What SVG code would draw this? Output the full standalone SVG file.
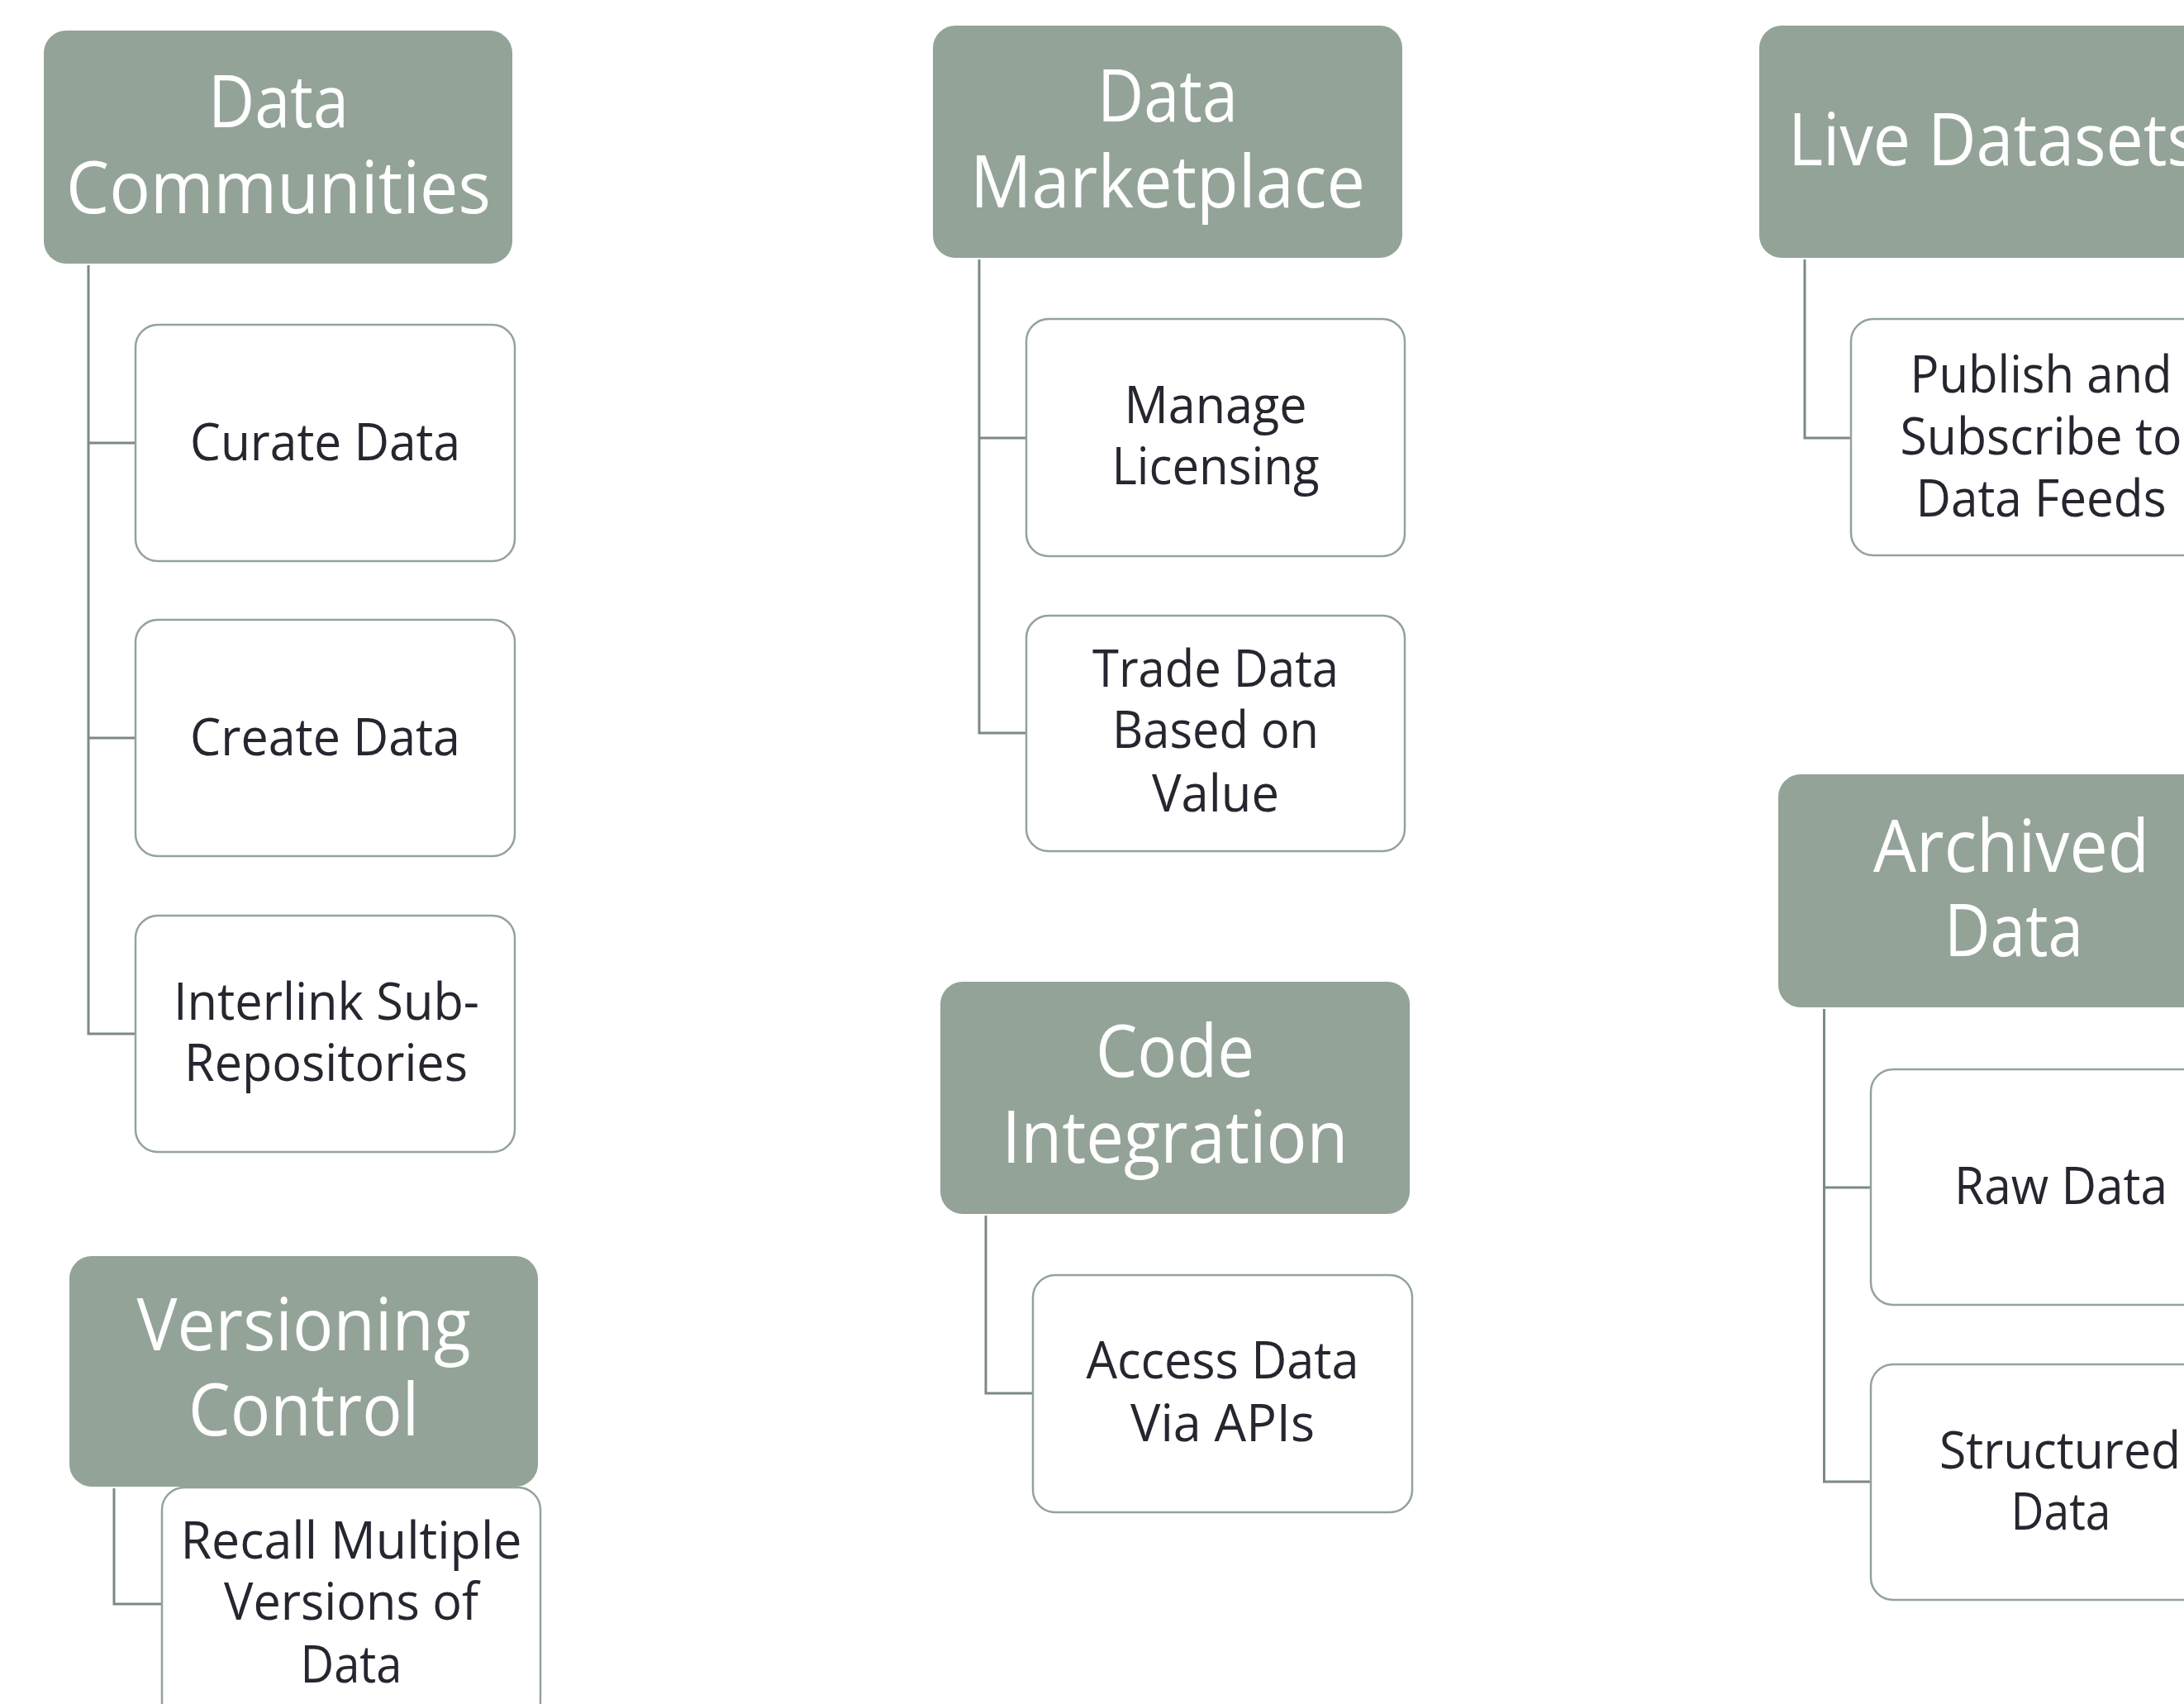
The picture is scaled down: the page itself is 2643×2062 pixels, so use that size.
<svg xmlns="http://www.w3.org/2000/svg" width="2643" height="2062" viewBox="0 0 2643 2062">
<style>
.hdr{fill:#93a398;}
.box{fill:#ffffff;stroke:#93a398;stroke-width:2.5;}
.conn{fill:none;stroke:#7b8a83;stroke-width:3;}
.ht{font-family:"Open Sans","Liberation Sans",sans-serif;font-size:87px;fill:#ffffff;text-anchor:middle;}
.ct{font-family:"Open Sans","Liberation Sans",sans-serif;font-size:62px;fill:#262630;text-anchor:middle;}
</style>
<rect width="2643" height="2062" fill="#ffffff"/>
<g id="connectors">
<path class="conn" d="M107 321 V1251 H164 M107 536 H164 M107 893 H164"/>
<path class="conn" d="M138 1801 V1941 H196"/>
<path class="conn" d="M1185 314 V887 H1242 M1185 530 H1242"/>
<path class="conn" d="M1193 1471 V1686 H1250"/>
<path class="conn" d="M2184 314 V530 H2240"/>
<path class="conn" d="M2207.5 1221 V1793 H2264 M2207.5 1437 H2264"/>
</g>
<g id="data-communities">
<rect class="hdr" x="53" y="37" width="567" height="282" rx="27"/>
<text class="ht" x="337" y="154" textLength="170" lengthAdjust="spacingAndGlyphs">Data</text>
<text class="ht" x="337" y="258" textLength="514" lengthAdjust="spacingAndGlyphs">Communities</text>
</g>
<g id="curate-data">
<rect class="box" x="164" y="393" width="459" height="286" rx="27"/>
<text class="ct" x="393.5" y="557" textLength="327" lengthAdjust="spacingAndGlyphs">Curate Data</text>
</g>
<g id="create-data">
<rect class="box" x="164" y="750" width="459" height="286" rx="27"/>
<text class="ct" x="393.5" y="914" textLength="327" lengthAdjust="spacingAndGlyphs">Create Data</text>
</g>
<g id="interlink">
<rect class="box" x="164" y="1108" width="459" height="286" rx="27"/>
<text class="ct" x="395" y="1234" textLength="370" lengthAdjust="spacingAndGlyphs">Interlink Sub-</text>
<text class="ct" x="394.5" y="1308" textLength="343" lengthAdjust="spacingAndGlyphs">Repositories</text>
</g>
<g id="versioning-control">
<rect class="hdr" x="84" y="1520" width="567" height="279" rx="27"/>
<text class="ht" x="367.5" y="1634" textLength="404" lengthAdjust="spacingAndGlyphs">Versioning</text>
<text class="ht" x="367.5" y="1737" textLength="279" lengthAdjust="spacingAndGlyphs">Control</text>
</g>
<g id="recall">
<rect class="box" x="196" y="1800" width="458" height="286" rx="27"/>
<text class="ct" x="425" y="1886" textLength="413" lengthAdjust="spacingAndGlyphs">Recall Multiple</text>
<text class="ct" x="425" y="1960" textLength="308" lengthAdjust="spacingAndGlyphs">Versions of</text>
<text class="ct" x="425" y="2036" textLength="123" lengthAdjust="spacingAndGlyphs">Data</text>
</g>
<g id="data-marketplace">
<rect class="hdr" x="1129" y="31" width="568" height="281" rx="27"/>
<text class="ht" x="1413" y="147" textLength="170" lengthAdjust="spacingAndGlyphs">Data</text>
<text class="ht" x="1413" y="251" textLength="478" lengthAdjust="spacingAndGlyphs">Marketplace</text>
</g>
<g id="manage-licensing">
<rect class="box" x="1242" y="386" width="458" height="287" rx="27"/>
<text class="ct" x="1471" y="512" textLength="221" lengthAdjust="spacingAndGlyphs">Manage</text>
<text class="ct" x="1471" y="586" textLength="251" lengthAdjust="spacingAndGlyphs">Licensing</text>
</g>
<g id="trade-data">
<rect class="box" x="1242" y="745" width="458" height="285" rx="27"/>
<text class="ct" x="1471" y="831" textLength="298" lengthAdjust="spacingAndGlyphs">Trade Data</text>
<text class="ct" x="1471" y="905" textLength="250" lengthAdjust="spacingAndGlyphs">Based on</text>
<text class="ct" x="1471" y="982" textLength="154" lengthAdjust="spacingAndGlyphs">Value</text>
</g>
<g id="code-integration">
<rect class="hdr" x="1138" y="1188" width="568" height="281" rx="27"/>
<text class="ht" x="1422" y="1303" textLength="192" lengthAdjust="spacingAndGlyphs">Code</text>
<text class="ht" x="1422" y="1407" textLength="419" lengthAdjust="spacingAndGlyphs">Integration</text>
</g>
<g id="access-data">
<rect class="box" x="1250" y="1543" width="459" height="287" rx="27"/>
<text class="ct" x="1479.5" y="1668" textLength="330" lengthAdjust="spacingAndGlyphs">Access Data</text>
<text class="ct" x="1479.5" y="1744" textLength="223" lengthAdjust="spacingAndGlyphs">Via APIs</text>
</g>
<g id="live-datasets">
<rect class="hdr" x="2129" y="31" width="567" height="281" rx="27"/>
<text class="ht" x="2412.5" y="200" textLength="497" lengthAdjust="spacingAndGlyphs">Live Datasets</text>
</g>
<g id="publish-subscribe">
<rect class="box" x="2240" y="386" width="459" height="286" rx="27"/>
<text class="ct" x="2470" y="475" textLength="317" lengthAdjust="spacingAndGlyphs">Publish and</text>
<text class="ct" x="2470" y="550" textLength="341" lengthAdjust="spacingAndGlyphs">Subscribe to</text>
<text class="ct" x="2470" y="625" textLength="303" lengthAdjust="spacingAndGlyphs">Data Feeds</text>
</g>
<g id="archived-data">
<rect class="hdr" x="2152" y="937" width="567" height="282" rx="27"/>
<text class="ht" x="2434" y="1055" textLength="334" lengthAdjust="spacingAndGlyphs">Archived</text>
<text class="ht" x="2437" y="1157" textLength="168" lengthAdjust="spacingAndGlyphs">Data</text>
</g>
<g id="raw-data">
<rect class="box" x="2264" y="1294" width="459" height="285" rx="27"/>
<text class="ct" x="2494" y="1457" textLength="258" lengthAdjust="spacingAndGlyphs">Raw Data</text>
</g>
<g id="structured-data">
<rect class="box" x="2264" y="1651" width="459" height="285" rx="27"/>
<text class="ct" x="2493" y="1777" textLength="292" lengthAdjust="spacingAndGlyphs">Structured</text>
<text class="ct" x="2494" y="1851" textLength="121" lengthAdjust="spacingAndGlyphs">Data</text>
</g>
</svg>
